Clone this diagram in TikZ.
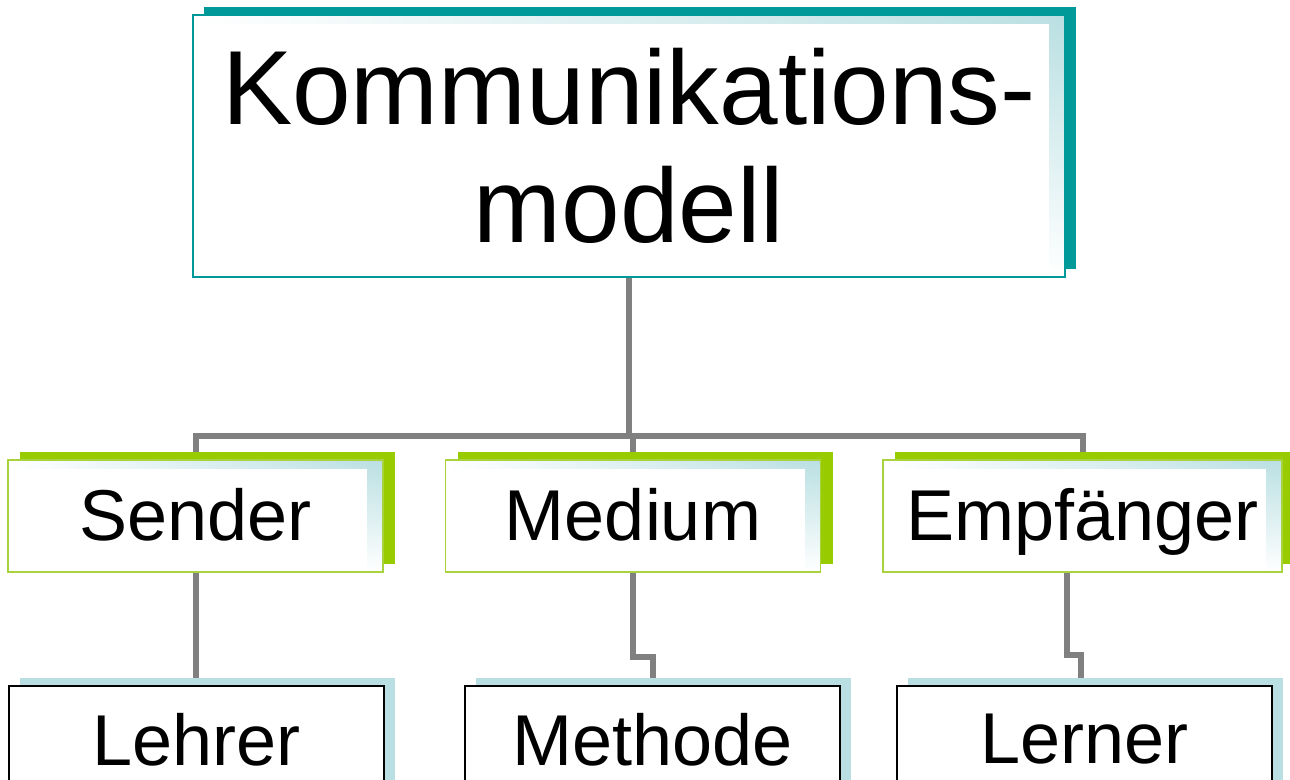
\documentclass[tikz,border=0pt]{standalone}
\usepackage{fontspec}
\setmainfont{Liberation Sans}
\usetikzlibrary{shadows,shadings,backgrounds}
\definecolor{kmteal}{HTML}{009999}
\definecolor{kmgreen}{HTML}{99CC00}
\definecolor{kmlime}{HTML}{A8D33C}
\definecolor{kmblue}{HTML}{B9DFE2}
\definecolor{kmgray}{HTML}{808080}
\tikzset{
  band/.style={upper left=white, lower left=white, lower right=white, upper right=kmblue,
    path picture={\fill[white] (path picture bounding box.south west)
      rectangle ([xshift=-12pt,yshift=-6.75pt]path picture bounding box.north east);}},
  headbox/.style={band, draw=kmteal, line width=1.2pt, inner sep=0pt,
    minimum width=654pt, minimum height=196.5pt, align=center,
    font=\fontsize{79}{88}\selectfont,
    general shadow={shadow xshift=8.25pt, shadow yshift=6pt, fill=kmteal}},
  partbox/.style={band, draw=kmlime, line width=1.2pt, inner sep=0pt, text depth=3pt,
    minimum width=281.25pt, minimum height=84pt, font=\fontsize{54}{60}\selectfont,
    general shadow={shadow xshift=9pt, shadow yshift=6pt, fill=kmgreen}},
  rolebox/.style={fill=white, draw=black, line width=1.2pt, inner sep=0pt, text depth=4.5pt,
    minimum width=281.25pt, minimum height=84pt, font=\fontsize{54}{60}\selectfont,
    general shadow={shadow xshift=8.25pt, shadow yshift=6pt, fill=kmblue}},
  conn/.style={draw=kmgray, line width=4.5pt}
}
\begin{document}
\begin{tikzpicture}[x=0.75pt,y=-0.75pt]
\useasboundingbox (0,0) rectangle (1290,780);
% top level
\node[headbox] (modell) at (629,146) {Kommunikations-\\modell};
% second level
\node[partbox] (sender) at (195.5,516) {Sender};
\node[partbox] (medium) at (633,516) {Medium};
\node[partbox, minimum width=299.25pt] (empf) at (1082.5,516) {Empfänger};
% third level
\node[rolebox] (lehrer) at (196.5,742) {Lehrer};
\node[rolebox] (methode) at (652.5,742) {Methode};
\node[rolebox] (lerner) at (1084.5,742) {Lerner};
\coordinate (bus) at (629,436);
\begin{scope}[on background layer]
  \draw[conn] (modell.south) -- (bus);
  \draw[conn] (sender.north) |- (bus) -| (empf.north);
  \draw[conn] (bus -| medium.north) -- (medium.north);
  \draw[conn] (sender.south) -- (sender.south |- lehrer.north);
  \draw[conn] (medium.south) |- ([yshift=21pt]methode.north) -- (methode.north);
  \draw[conn] ([xshift=-12pt]empf.south) |- ([xshift=-3pt,yshift=22.5pt]lerner.north)
    -- ([xshift=-3pt]lerner.north);
\end{scope}
\end{tikzpicture}
\end{document}
